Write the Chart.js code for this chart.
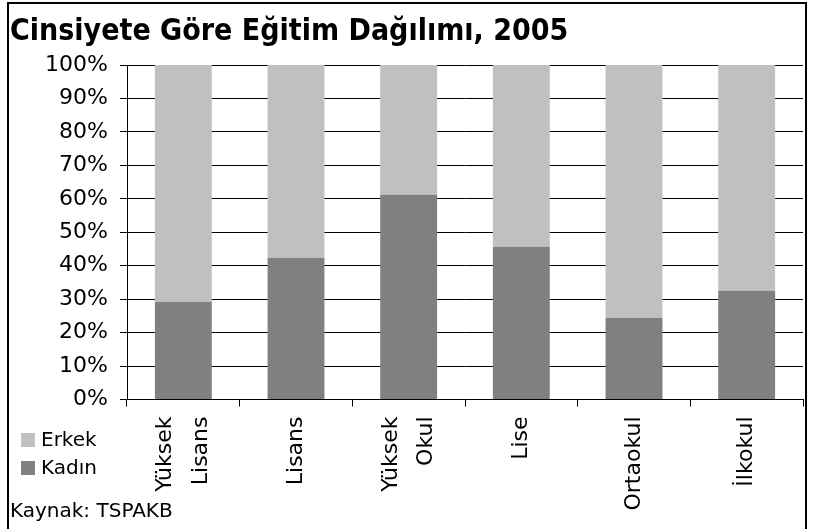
<!DOCTYPE html>
<html>
<head>
<meta charset="utf-8">
<script src="https://cdn.jsdelivr.net/npm/chart.js@4"></script>
<style>
  body { margin: 0; background: #fff; }
  #frame { position: absolute; left: 7px; top: 2px; width: 796px; height: 600px; border: 2px solid #000; }
  #wrap { position: absolute; left: 0; top: 0; width: 815px; height: 529px; }
</style>
</head>
<body>
<div id="frame"></div>
<div id="wrap"><canvas id="myChart" width="815" height="529"></canvas></div>
<script>
// kategoriler (cok satirli etiketler dizi olarak)
let labels = [
    ['Yüksek', 'Lisans'],
    'Lisans',
    ['Yüksek', 'Okul'],
    'Lise',
    'Ortaokul',
    'İlkokul',
];

// yuzde paylar
let kadin = [29.2, 42.4, 61.2, 45.7, 24.4, 32.5];
let erkek = [70.8, 57.6, 38.8, 54.3, 75.6, 67.5];

let yTicks = [0, 10, 20, 30, 40, 50, 60, 70, 80, 90, 100];

const font = 'DejaVu Sans';
const xFontSize = 22, xLineHeight = 1.6;

/* legend + kaynak notu, sol alt */
const legendNote = {
    id: 'legendNote',
    afterDraw(chart) {
        const ctx = chart.ctx;
        const items = chart.data.datasets.slice().reverse();
        ctx.save();
        ctx.font = '20px "' + font + '"';
        ctx.textBaseline = 'middle';
        ctx.fillStyle = '#000';
        items.forEach((ds, i) => {
            let y = 440 + i * 28;
            ctx.fillStyle = ds.backgroundColor;
            ctx.fillRect(21, y - 7, 14, 14);
            ctx.fillStyle = '#000';
            ctx.fillText(ds.label, 41, y + 1);
        });
        ctx.fillText('Kaynak: TSPAKB', 10, 512);
        ctx.restore();
    }
};

let data = {
    labels: labels,
    datasets: [{
        label: 'Kadın',
        backgroundColor: '#808080',
        data: kadin,
    }, {
        label: 'Erkek',
        backgroundColor: '#c0c0c0',
        data: erkek,
    }]
};

let config = {
    type: 'bar',
    data: data,
    plugins: [legendNote],
    options: {
        responsive: false,
        animation: false,
        layout: { padding: { left: 10, right: 12, top: 0, bottom: 0 } },
        datasets: { bar: { categoryPercentage: 0.505, barPercentage: 1 } },
        plugins: {
            legend: { display: false },
            tooltip: { enabled: false },
            title: {
                display: true,
                text: 'Cinsiyete Göre Eğitim Dağılımı, 2005',
                align: 'start',
                color: '#000',
                font: { family: 'DejaVu Sans Condensed', size: 30, weight: 'bold' },
                padding: { top: 14, bottom: 15 }
            }
        },
        scales: {
            x: {
                stacked: true,
                grid: { offset: true, drawOnChartArea: false, drawTicks: true, tickLength: 7, color: '#000' },
                border: { color: '#000' },
                ticks: {
                    color: '#000', minRotation: 90, maxRotation: 90, padding: 10,
                    font: { family: font, size: xFontSize, lineHeight: xLineHeight }
                },
                afterFit(scale) {
                    scale.height = 129.5;
                    // iki satirli etiketleri cubuga gore ortala
                    if (!scale._centered) {
                        scale._centered = true;
                        const orig = scale._computeLabelItems.bind(scale);
                        scale._computeLabelItems = (area) => orig(area).map(item => {
                            const n = Array.isArray(item.label) ? item.label.length : 1;
                            item.options.translation[0] -= (n - 1) * xFontSize * xLineHeight / 2;
                            return item;
                        });
                    }
                }
            },
            y: {
                stacked: true,
                min: 0, max: 100,
                afterBuildTicks(scale) { scale.ticks = yTicks.map(v => ({ value: v })); },
                grid: { color: '#000', tickLength: 7 },
                border: { color: '#000' },
                ticks: {
                    color: '#000', padding: 12,
                    font: { family: font, size: 22 },
                    callback: v => v + '%'
                },
                afterFit(scale) { scale.width = 117; }
            }
        }
    }
};

var myChart = new Chart(document.getElementById('myChart').getContext('2d'), config);
</script>
</body>
</html>
